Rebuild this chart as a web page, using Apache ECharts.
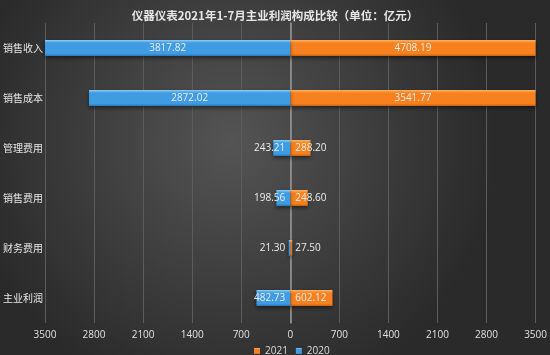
<!DOCTYPE html>
<html><head><meta charset="utf-8">
<script src="https://cdn.jsdelivr.net/npm/echarts@6/dist/echarts.min.js"></script>
<style>html,body{margin:0;padding:0;background:#333}#c{width:550px;height:355px}</style>
</head><body><div id="c"></div>
<script>
var categories = ['销售收入','销售成本','管理费用','销售费用','财务费用','主业利润'];
var values2021 = [4708.19, 3541.77, 288.20, 248.60, 27.50, 602.12];
var values2020 = [3817.82, 2872.02, 243.21, 198.56, 21.30, 482.73];
var tickValues = [-3500, -2800, -2100, -1400, -700, 0, 700, 1400, 2100, 2800, 3500];

var chart = echarts.init(document.getElementById('c'));
function grad(top, mid, bot){
  return new echarts.graphic.LinearGradient(0,0,0,1,[
    {offset:0,color:top},{offset:0.18,color:mid},{offset:0.85,color:mid},{offset:1,color:bot}]);
}
var blue = grad('#8fd0f8','#3f9be2','#2c78b8');
var orange = grad('#ffb56a','#f7811e','#c9620f');
var lbl = {show:true,color:'#ececec',fontSize:10,fontFamily:'Open Sans, Noto Sans CJK SC',
  formatter:function(p){return Math.abs(p.value).toFixed(2);}};

var d2020 = values2020.map(function(v){
  return {value:-v,label:{position: v<1000 ? 'insideRight' : 'inside'}};
});
var d2021 = values2021.map(function(v){
  return {value:v,label:{position: v<1000 ? 'insideLeft' : 'inside'}};
});

chart.setOption({
  backgroundColor: new echarts.graphic.RadialGradient(0.42,0.4,0.75,[
    {offset:0,color:'#545454'},{offset:1,color:'#2a2a2a'}]),
  title:{text:'仪器仪表2021年1-7月主业利润构成比较（单位：亿元）',left:'center',top:5,
    textStyle:{color:'#e6e6e6',fontSize:11.5,fontWeight:'bold',fontFamily:'Noto Sans CJK SC'}},
  legend:{data:['2021','2020'],left:249,top:341,itemWidth:6,itemHeight:6,itemGap:8,
    icon:'rect',textStyle:{color:'#dddddd',fontSize:10,fontFamily:'Open Sans'}},
  grid:{left:45,right:11,top:23,bottom:32,containLabel:false},
  xAxis:{type:'value',min:-3500,max:3500,interval:700,
    axisLabel:{color:'#e0e0e0',fontSize:10,fontFamily:'Open Sans',margin:7,
      formatter:function(v){return Math.abs(v);}},
    axisLine:{show:false},axisTick:{show:false},
    splitLine:{lineStyle:{color:'#5c5c5c',width:1}}},
  yAxis:{type:'category',data:categories,inverse:true,
    axisLine:{onZero:true,lineStyle:{color:'#9a9a9a',width:1.5}},axisTick:{show:false},
    axisLabel:{color:'#e6e6e6',fontSize:10,fontFamily:'Noto Sans CJK SC',
      align:'left',margin:42}},
  series:[
    {name:'2021',type:'bar',stack:'t',data:d2021,barWidth:'32%',
      itemStyle:{color:orange,shadowColor:'rgba(0,0,0,0.5)',shadowBlur:4,shadowOffsetY:2},
      label:lbl},
    {name:'2020',type:'bar',stack:'t2',barGap:'-100%',data:d2020,barWidth:'32%',
      itemStyle:{color:blue,shadowColor:'rgba(0,0,0,0.5)',shadowBlur:4,shadowOffsetY:2},
      label:lbl}
  ]
});
</script></body></html>
